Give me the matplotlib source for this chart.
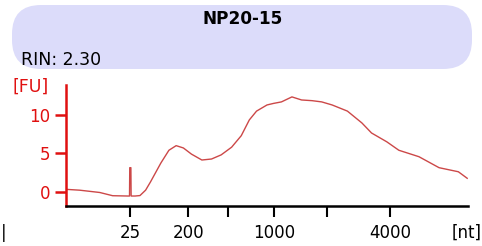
import matplotlib
matplotlib.use("Agg")
import matplotlib.pyplot as plt
from matplotlib.patches import FancyBboxPatch

# migration time (s) and fluorescence (FU)
time_s = [19.0, 20.7, 23.2, 24.8, 26.7, 26.9, 26.93, 27.07, 27.1, 27.6, 28.2, 28.9,
          29.5, 30.8, 31.8, 32.7, 33.6, 34.6, 35.9, 37.1, 38.3, 39.6, 40.8, 41.8,
          42.7, 44.0, 44.8, 45.8, 47.1, 48.3, 49.6, 50.8, 52.1, 54.0, 55.8, 57.0,
          58.9, 60.4, 62.9, 65.4, 67.8, 68.9]
fu = [0.31, 0.2, -0.1, -0.52, -0.56, -0.56, 3.13, 3.13, -0.56, -0.56, -0.5, 0.2,
      1.26, 3.74, 5.4, 6.0, 5.7, 4.9, 4.13, 4.26, 4.8, 5.8, 7.3, 9.35,
      10.5, 11.3, 11.5, 11.7, 12.35, 11.95, 11.86, 11.7, 11.3, 10.5, 8.96, 7.65,
      6.5, 5.4, 4.56, 3.13, 2.6, 1.75]

tick_pos = [26.96, 34.2, 39.15, 44.9, 51.5, 59.3]
tick_labels = ["25", "200", "", "1000", "", "4000"]
yticks = [0, 5, 10]

red = "#e01010"

fig = plt.figure(figsize=(4.82, 2.46), dpi=100)

box = FancyBboxPatch((12 / 482, 1 - 69 / 246), 460 / 482, 64 / 246,
                     boxstyle="round,pad=0,rounding_size=0.06",
                     transform=fig.transFigure, facecolor="#dcdcfa",
                     edgecolor="none", mutation_aspect=482 / 246)
fig.patches.append(box)
fig.text(243 / 482, 1 - 19 / 246, "NP20-15", ha="center", va="center",
         fontsize=12.2, fontweight="bold")
fig.text(21 / 482, 1 - 60 / 246, "RIN: 2.30", ha="left", va="center",
         fontsize=12.5)

ax = fig.add_axes([66 / 482, 1 - 206 / 246, 402 / 482, 121 / 246])
ax.plot(time_s, fu, color="#cc4848", lw=1.0)
ax.set_xlim(19, 69)
ax.set_ylim(-1.86, 13.9)

for s in ["top", "right"]:
    ax.spines[s].set_visible(False)
ax.spines["left"].set_color(red)
ax.spines["left"].set_linewidth(1.8)
ax.spines["bottom"].set_color("black")
ax.spines["bottom"].set_linewidth(1.8)

ax.set_yticks(yticks)
ax.tick_params(axis="y", colors=red, length=8, width=1.8, labelsize=12, pad=3)
ax.set_xticks(tick_pos)
ax.set_xticklabels(tick_labels)
ax.tick_params(axis="x", colors="black", length=8, width=1.5, labelsize=12, pad=5)

fig.text(12 / 482, 1 - 87 / 246, "[FU]", color=red, ha="left", va="center",
         fontsize=12.5)
fig.text(452 / 482, 1 - 233 / 246, "[nt]", ha="left", va="center", fontsize=12)
fig.text(1 / 482, 1 - 233 / 246, "|", ha="left", va="center", fontsize=12)

fig.savefig("out.png", dpi=100)
